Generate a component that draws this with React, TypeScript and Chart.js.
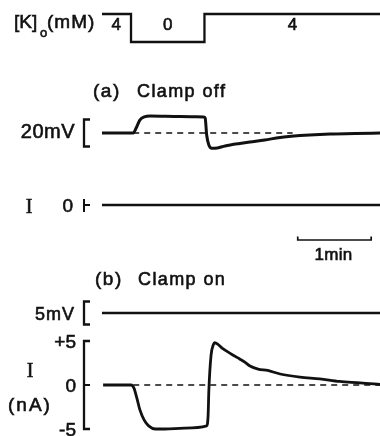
import React, { useEffect, useRef } from 'react';
import { Chart, registerables } from 'chart.js';

Chart.register(...registerables);

// ---- data (time in minutes, t = 0 at removal of K+) ----
const kTime = [-0.4, 0, 0, 1.0, 1.0, 3.4];
const kConc = [4, 4, 0, 0, 4, 4];
const kLabels = ['4', '0', '4'];

// (a) clamp off: membrane potential (mV, relative to resting level)
const vOffTime = [-0.4, 0.03, 0.07, 0.12, 0.18, 0.26, 0.67, 0.99, 1.01, 1.03, 1.06, 1.1, 1.14, 1.28, 1.48, 1.62, 1.82, 2.03, 2.3, 2.71, 3.05, 3.4];
const vOffVal = [0, 0, 3.7, 9.6, 11.9, 12.6, 12.2, 11.9, 11.1, -1.5, -8.9, -11.3, -11.3, -9.6, -7.8, -6.7, -5.2, -3.3, -1.9, -0.7, -0.4, 0];
// (a) clamp off: current (nA)
const iOffTime = [-0.4, 3.4];
const iOffVal = [0, 0];
// (b) clamp on: membrane potential (mV)
const vOnTime = [-0.4, 3.4];
const vOnVal = [0, 0];
// (b) clamp on: current (nA)
const iOnTime = [-0.38, 0.0, 0.04, 0.08, 0.12, 0.18, 0.24, 0.33, 0.46, 0.73, 1.03, 1.05, 1.06, 1.09, 1.12, 1.14, 1.18, 1.24, 1.35, 1.48, 1.55, 1.62, 1.73, 1.86, 2.03, 2.3, 2.57, 2.84, 3.12, 3.4];
const iOnVal = [0, 0, -0.35, -1.5, -2.8, -4.0, -4.65, -5.0, -5.0, -4.9, -4.65, -3.4, -0.6, 3.4, 4.55, 4.8, 4.65, 4.2, 3.6, 2.95, 2.6, 2.15, 1.8, 1.65, 1.25, 0.9, 0.7, 0.4, 0.25, 0.05];

// dashed reference (resting) lines
const dashATime = [0.03, 2.2];
const dashBTime = [0.03, 3.4];

// calibrations
const calVa = [10, -10]; // 20 mV
const calVb = [2.5, -2.5]; // 5 mV
const calIb = [5, 0, -5]; // nA ticks
const calIbLabels = ['+5', '0', '-5'];
const scaleBarMin = [2.27, 3.27]; // 1 min

const xRange = [-0.395, 3.39];

const W = 380;
const H = 436;

function band(vTop: number, pTop: number, vBot: number, pBot: number) {
  const s = (pBot - pTop) / (vTop - vBot);
  return { type: 'linear' as const, display: false, min: vBot - (H - pBot) / s, max: vTop + pTop / s };
}

const pts = (t: number[], v: number[]) => t.map((x, i) => ({ x, y: v[i] }));

const INK = '#111';
const SANS = '"Liberation Sans", Arial, sans-serif';
const SERIF = '"Liberation Serif", "DejaVu Serif", serif';

const overlay = {
  id: 'overlay',
  afterDraw(chart: any) {
    const ctx: CanvasRenderingContext2D = chart.ctx;
    const sx = chart.scales.x;
    const yK = chart.scales.yK;
    const yVa = chart.scales.yVa;
    const yIa = chart.scales.yIa;
    const yVb = chart.scales.yVb;
    const yIb = chart.scales.yIb;
    ctx.save();
    ctx.fillStyle = INK;
    ctx.strokeStyle = INK;
    ctx.lineCap = 'butt';

    const text = (s: string, x: number, y: number, font: string, align: CanvasTextAlign = 'left', spacing = 0) => {
      ctx.font = font;
      (ctx as any).letterSpacing = spacing + 'px';
      ctx.textAlign = align;
      ctx.textBaseline = 'alphabetic';
      ctx.fillText(s, x, y);
      ctx.lineWidth = 0.6;
      ctx.strokeText(s, x, y);
      (ctx as any).letterSpacing = '0px';
    };
    const line = (x1: number, y1: number, x2: number, y2: number, w: number) => {
      ctx.lineWidth = w;
      ctx.beginPath();
      ctx.moveTo(x1, y1);
      ctx.lineTo(x2, y2);
      ctx.stroke();
    };
    const bracket = (yTop: number, yBot: number) => {
      ctx.lineWidth = 2.3;
      ctx.beginPath();
      ctx.moveTo(90, yTop);
      ctx.lineTo(84, yTop);
      ctx.lineTo(84, yBot);
      ctx.lineTo(90, yBot);
      ctx.stroke();
    };

    // K+ trace labels
    text('[K]', 14, 28, `19px ${SANS}`);
    text('o', 40, 37, `13px ${SANS}`);
    text('(mM)', 47, 28, `19px ${SANS}`, 'left', 1);
    const kBase = yK.getPixelForValue(4) + 16;
    for (let i = 0; i < kLabels.length; i++) {
      const mid = (kTime[i * 2] + kTime[i * 2 + 1]) / 2;
      text(kLabels[i], sx.getPixelForValue(mid), kBase, `17px ${SANS}`, 'center');
    }

    // (a) Clamp off
    text('(a)', 93, 97, `19px ${SANS}`, 'left', 1.5);
    text('Clamp off', 137, 97, `18px ${SANS}`, 'left', 1.4);
    bracket(yVa.getPixelForValue(calVa[0]), yVa.getPixelForValue(calVa[1]));
    text('20mV', 75, yVa.getPixelForValue(0) + 5, `20px ${SANS}`, 'right', 0.5);

    const yIa0 = yIa.getPixelForValue(0);
    text('I', 29, yIa0 + 8, `20px ${SERIF}`, 'center');
    text('0', 73, yIa0 + 7, `19px ${SANS}`, 'right');
    line(84, yIa0 - 6, 84, yIa0 + 7, 2);
    line(84, yIa0, 90, yIa0, 2);

    // time scale bar
    const xb0 = sx.getPixelForValue(scaleBarMin[0]);
    const xb1 = sx.getPixelForValue(scaleBarMin[1]);
    ctx.lineWidth = 1.7;
    ctx.beginPath();
    ctx.moveTo(xb0, 236.5);
    ctx.lineTo(xb0, 240);
    ctx.lineTo(xb1, 240);
    ctx.lineTo(xb1, 236.5);
    ctx.stroke();
    text('1min', (xb0 + xb1) / 2 - 1, 260, `17px ${SANS}`, 'center', 0.3);

    // (b) Clamp on
    text('(b)', 95, 285, `19px ${SANS}`, 'left', 1.5);
    text('Clamp on', 138, 285, `18px ${SANS}`, 'left', 1.4);
    bracket(yVb.getPixelForValue(calVb[0]), yVb.getPixelForValue(calVb[1]));
    text('5mV', 75, yVb.getPixelForValue(0) + 7, `18px ${SANS}`, 'right', 1);

    bracket(yIb.getPixelForValue(calIb[0]), yIb.getPixelForValue(calIb[2]));
    const y0b = yIb.getPixelForValue(calIb[1]);
    line(84, y0b, 90, y0b, 2);
    for (let i = 0; i < calIb.length; i++) {
      text(calIbLabels[i], 76, yIb.getPixelForValue(calIb[i]) + 7, `19px ${SANS}`, 'right');
    }
    text('I', 30, 377, `20px ${SERIF}`, 'center');
    text('(nA)', 8, 411, `19px ${SANS}`, 'left', 2);

    ctx.restore();
  },
};

export default function App() {
  const ref = useRef<HTMLCanvasElement | null>(null);
  useEffect(() => {
    if (!ref.current) return;
    const trace = (data: any, axis: string, w = 2.7, extra: any = {}) => ({
      data,
      yAxisID: axis,
      borderColor: INK,
      backgroundColor: INK,
      borderWidth: w,
      pointRadius: 0,
      fill: false,
      ...extra,
    });
    const chart = new Chart(ref.current, {
      type: 'line',
      data: {
        datasets: [
          trace(pts(kTime, kConc), 'yK', 2.3, { tension: 0 }),
          trace(pts(vOffTime, vOffVal), 'yVa', 3, { cubicInterpolationMode: 'monotone' }),
          trace(pts(dashATime, [0, 0]), 'yVa', 1.4, { borderDash: [6, 5] }),
          trace(pts(iOffTime, iOffVal), 'yIa', 2.7),
          trace(pts(vOnTime, vOnVal), 'yVb', 2.7),
          trace(pts(iOnTime, iOnVal), 'yIb', 2.8, { cubicInterpolationMode: 'monotone' }),
          trace(pts(dashBTime, [0, 0]), 'yIb', 1.4, { borderDash: [6, 5] }),
        ],
      },
      options: {
        animation: false,
        responsive: false,
        devicePixelRatio: 1,
        layout: { padding: { left: 102, right: 0, top: 0, bottom: 0 } },
        plugins: { legend: { display: false }, tooltip: { enabled: false } },
        events: [],
        scales: {
          x: { type: 'linear', display: false, min: xRange[0], max: xRange[1] },
          yK: band(4, 14, 0, 42),
          yVa: band(10, 119.5, -10, 146.5),
          yIa: band(5, 161, -5, 249),
          yVb: band(2.5, 301.5, -2.5, 324.5),
          yIb: band(5, 341, -5, 429),
        },
      } as any,
      plugins: [overlay],
    });
    return () => chart.destroy();
  }, []);
  return (
    <div style={{ position: 'fixed', left: 0, top: 0, width: W, height: H, background: '#fff' }}>
      <canvas ref={ref} width={W} height={H} style={{ display: 'block' }} />
    </div>
  );
}
